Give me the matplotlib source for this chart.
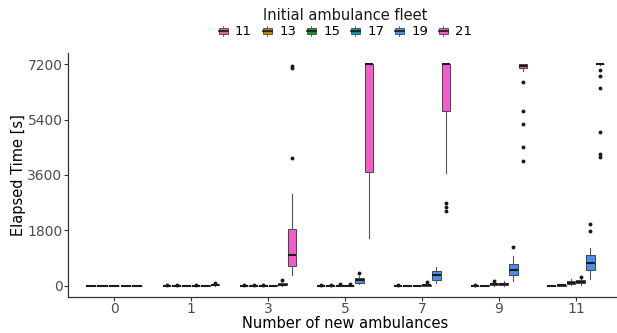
import matplotlib
matplotlib.use('Agg')
import matplotlib.pyplot as plt
from matplotlib.legend_handler import HandlerBase
from matplotlib.patches import Rectangle, Patch
from matplotlib.lines import Line2D

# ---------------- data ----------------
categories = ['0', '1', '3', '5', '7', '9', '11']
fleets = ['11', '13', '15', '17', '19', '21']
colors = ['#EE6B6B', '#B58900', '#0A9A30', '#0097A7', '#4690F0', '#F55CCB']

# per fleet, per category (None = not present)
whislo = {
    '11': [0, 0, 0, 0, 0, 0, 0],
    '13': [0, 0, 0, 0, 0, 0, 0],
    '15': [0, 0, 0, 0, 0, 0, 30],
    '17': [0, 0, 0, 0, 0, 0, 20],
    '19': [0, 0, 0, 60, 87, 160, 216],
    '21': [None, 10, 356, 1546, 3654, 6980, 7160],
}
q1 = {
    '11': [0, 0, 0, 0, 0, 0, 0],
    '13': [0, 0, 0, 0, 0, 0, 10],
    '15': [0, 0, 0, 0, 0, 35, 70],
    '17': [0, 0, 0, 0, 5, 35, 90],
    '19': [0, 0, 20, 107, 195, 340, 519],
    '21': [None, 25, 658, 3686, 5665, 7060, 7200],
}
median = {
    '11': [0, 0, 0, 0, 0, 5, 5],
    '13': [0, 0, 0, 0, 0, 10, 20],
    '15': [0, 0, 0, 0, 10, 60, 110],
    '17': [0, 0, 5, 0, 20, 60, 140],
    '19': [0, 5, 40, 195, 347, 510, 730],
    '21': [None, 40, 1004, 7200, 7200, 7130, 7200],
}
q3 = {
    '11': [0, 0, 0, 0, 0, 10, 10],
    '13': [0, 0, 0, 0, 10, 20, 35],
    '15': [0, 0, 0, 0, 20, 90, 150],
    '17': [0, 0, 15, 0, 40, 95, 190],
    '19': [0, 20, 80, 260, 480, 720, 1000],
    '21': [None, 60, 1837, 7200, 7200, 7200, 7200],
}
whishi = {
    '11': [0, 0, 0, 0, 0, 20, 20],
    '13': [0, 0, 0, 0, 20, 40, 50],
    '15': [0, 0, 0, 0, 40, 120, 210],
    '17': [0, 0, 30, 0, 70, 150, 260],
    '19': [0, 40, 140, 330, 626, 980, 1222],
    '21': [None, 90, 2990, 7200, 7200, 7200, 7200],
}
fliers = {
    '11': [[], [15], [20], [15], [15], [30], []],
    '13': [[], [15], [20], [20], [], [], []],
    '15': [[], [], [25], [60], [], [145], []],
    '17': [[], [20], [], [60], [125], [], [295]],
    '19': [[], [], [200], [432], [], [1275], [1770, 2010]],
    '21': [[], [110], [4157, 7063, 7128], [], [2443, 2573, 2702],
           [6625, 5685, 5244, 4498, 4054], [7005, 6820, 6430, 4985, 4280, 4200]],
}
yticks = [0, 1800, 3600, 5400, 7200]

# ---------------- figure ----------------
fig = plt.figure(figsize=(6.17, 3.33), dpi=100)
ax = fig.add_axes([68 / 617, 36 / 333, 554 / 617, 244 / 333])

dodge = 0.75
for ci, cat in enumerate(categories):
    present = [f for f in fleets if median[f][ci] is not None]
    n = len(present)
    slot = dodge / n
    for k, f in enumerate(present):
        pos = ci + (k - (n - 1) / 2) * slot
        st = dict(whislo=whislo[f][ci], q1=q1[f][ci], med=median[f][ci],
                  q3=q3[f][ci], whishi=whishi[f][ci], fliers=fliers[f][ci])
        col = colors[fleets.index(f)]
        ax.bxp([st], positions=[pos], widths=slot * 0.9, patch_artist=True,
               showcaps=False, manage_ticks=False,
               boxprops=dict(facecolor=col, edgecolor='#444444', linewidth=0.7),
               medianprops=dict(color='#1a1a1a', linewidth=1.5, solid_capstyle='butt'),
               whiskerprops=dict(color='#555555', linewidth=0.8),
               flierprops=dict(marker='o', markersize=2.8, markerfacecolor='#1a1a1a',
                               markeredgecolor='none'))

ax.set_xlim(-0.6, 6.6)
ax.set_ylim(-360, 7560)
ax.set_xticks(range(len(categories)))
ax.set_xticklabels(categories)
ax.set_yticks(yticks)
ax.set_yticklabels([str(v) for v in yticks])
for s in ['top', 'right']:
    ax.spines[s].set_visible(False)
for s in ['left', 'bottom']:
    ax.spines[s].set_color('#333333')
    ax.spines[s].set_linewidth(0.9)
ax.tick_params(axis='both', colors='#333333', labelcolor='#4D4D4D', labelsize=10,
               length=2.75, width=0.8, pad=1.2)
ax.set_xlabel('Number of new ambulances', fontsize=10.5, labelpad=0)
ax.set_ylabel('Elapsed Time [s]', fontsize=10.5, labelpad=1)


class BoxHandler(HandlerBase):
    def create_artists(self, legend, orig_handle, xdescent, ydescent,
                       width, height, fontsize, trans):
        col = orig_handle.get_facecolor()
        x0, y0 = -xdescent, -ydescent
        bw = width * 0.85
        bx = x0 + (width - bw) / 2
        bh = height * 0.6
        by = y0 + (height - bh) / 2
        rect = Rectangle((bx, by), bw, bh, facecolor=col, edgecolor='#444444',
                         linewidth=0.6, transform=trans)
        cx = x0 + width / 2
        wl1 = Line2D([cx, cx], [y0, by], color='#555555', lw=0.6, transform=trans)
        wl2 = Line2D([cx, cx], [by + bh, y0 + height], color='#555555', lw=0.6,
                     transform=trans)
        med = Line2D([bx, bx + bw], [y0 + height / 2] * 2, color='#1a1a1a', lw=1.2,
                     transform=trans)
        return [wl1, wl2, rect, med]


handles = [Patch(facecolor=c) for c in colors]
leg = fig.legend(handles, fleets, title='Initial ambulance fleet', loc='upper center',
                 bbox_to_anchor=(345 / 617, 1.005), ncol=6, frameon=False,
                 handler_map={Patch: BoxHandler()}, fontsize=9.5, title_fontsize=10.5,
                 handlelength=0.8, handleheight=0.8, handletextpad=0.5,
                 columnspacing=0.75, borderaxespad=0.3, labelspacing=0.2)
leg.get_title().set_color('#1a1a1a')

fig.savefig('out.png', dpi=100)
